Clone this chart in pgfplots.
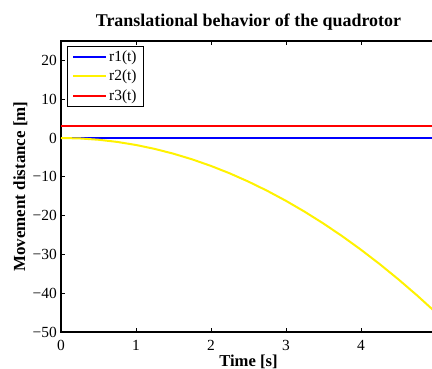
\documentclass[border=0pt]{standalone}
\usepackage{fontspec}
\setmainfont{Liberation Serif}
\usepackage{pgfplots}
\pgfplotsset{compat=1.18}
\begin{document}
\begin{tikzpicture}[x=1bp,y=1bp]
\begin{axis}[
  at={(0,0)}, anchor=south west,
  scale only axis, width=375bp, height=291bp,
  xmin=0, xmax=5, ymin=-50, ymax=25,
  xtick={0,1,2,3,4,5},
  ytick={-50,-40,-30,-20,-10,0,10,20},
  yticklabels={−50,−40,−30,−20,−10,0,10,20},
  tick align=inside,
  major tick length=4bp,
  axis line style={line width=1.2bp},
  tick style={black, line width=0.7bp},
  ticklabel style={font=\fontsize{15.5}{16}\selectfont},
  /pgf/number format/assume math mode=true,
  xticklabel style={anchor=base, yshift=-18bp},
  yticklabel style={inner sep=0pt, xshift=-4bp},
  title={Translational behavior of the quadrotor},
  title style={font=\fontsize{18}{18}\selectfont\bfseries, at={(axis description cs:0.5,1.031)}, anchor=base},
  xlabel={Time [s]},
  xlabel style={font=\fontsize{16.7}{17}\selectfont\bfseries, at={(axis description cs:0.5,-0.120)}, anchor=base},
  ylabel={Movement distance [m]},
  ylabel style={font=\fontsize{17}{17}\selectfont\bfseries, at={(axis description cs:-0.096,0.5)}, anchor=base, rotate=0},
  legend style={at={(axis description cs:0.0152,0.983)}, anchor=north west,
    draw=black, line width=1bp, font=\fontsize{15.5}{16}\selectfont,
    inner xsep=5bp, inner ysep=2bp, row sep=3.5bp,
    nodes={inner sep=2bp}},
  legend cell align=left,
  legend image code/.code={\draw[#1] (0bp,0bp) -- (33bp,0bp);},
]
\addplot[blue, line width=2bp] coordinates {(0,0) (5,0)};
\addlegendentry{r1(t)}
\addplot[yellow, line width=2bp] coordinates {
(0,0) (0.25,-0.11) (0.5,-0.45) (0.75,-1.01) (1,-1.8) (1.25,-2.81) (1.5,-4.05)
(1.75,-5.51) (2,-7.2) (2.25,-9.11) (2.5,-11.25) (2.75,-13.61) (3,-16.2)
(3.25,-19.01) (3.5,-22.05) (3.75,-25.31) (4,-28.8) (4.25,-32.51) (4.5,-36.45)
(4.75,-40.61) (5,-45)};
\addlegendentry{r2(t)}
\addplot[red, line width=2bp] coordinates {(0,3) (5,3)};
\addlegendentry{r3(t)}
\end{axis}
\pgfresetboundingbox
\useasboundingbox (-61,-37) rectangle (371,332);
\end{tikzpicture}
\end{document}
